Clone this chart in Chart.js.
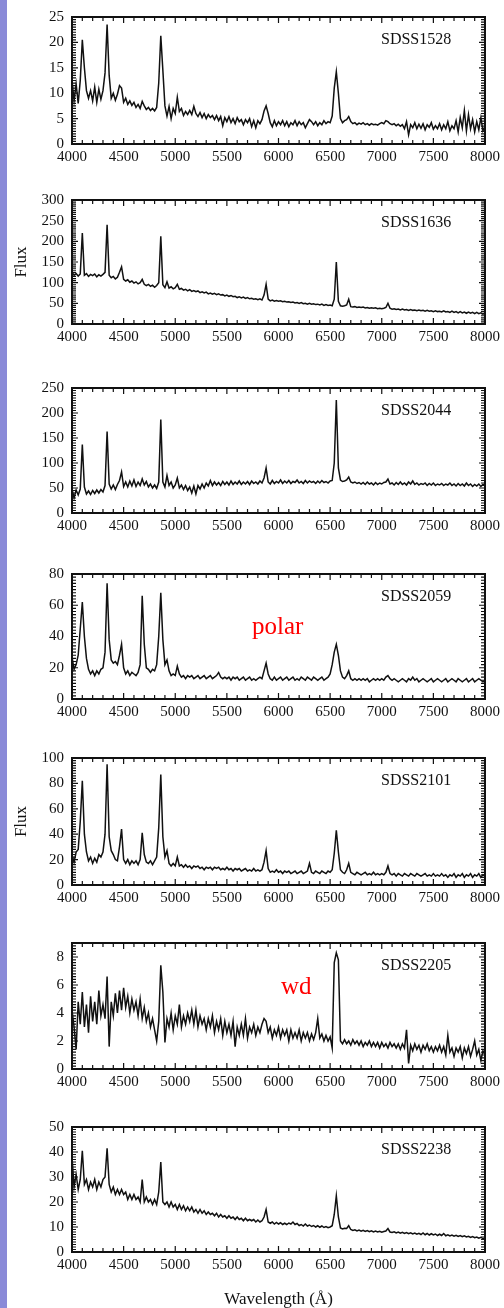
<!DOCTYPE html>
<html>
<head>
<meta charset="utf-8">
<script src="https://cdn.jsdelivr.net/npm/chart.js@4.4.1/dist/chart.umd.min.js"></script>
<style>
  html, body { margin: 0; padding: 0; background: #fff; overflow: hidden; }
  #page { position: relative; width: 504px; height: 1308px; }
  #strip { position: absolute; left: 0; top: 0; width: 7px; height: 1308px; background: #8a8ad8; }
  canvas { position: absolute; left: 0; }
</style>
</head>
<body>
<div id="page"><div id="strip"></div></div>
<script>
// wavelength grid (Angstrom), shared by all seven spectra
const wavelength = [
  4000,4020,4040,4060,4080,4100,4120,4140,4160,4180,
  4200,4220,4240,4260,4280,4300,4320,4340,4360,4380,
  4400,4420,4440,4460,4480,4500,4520,4540,4560,4580,
  4600,4620,4640,4660,4680,4700,4720,4740,4760,4780,
  4800,4820,4840,4860,4880,4900,4920,4940,4960,4980,
  5000,5020,5040,5060,5080,5100,5120,5140,5160,5180,
  5200,5220,5240,5260,5280,5300,5320,5340,5360,5380,
  5400,5420,5440,5460,5480,5500,5520,5540,5560,5580,
  5600,5620,5640,5660,5680,5700,5720,5740,5760,5780,
  5800,5820,5840,5860,5880,5900,5920,5940,5960,5980,
  6000,6020,6040,6060,6080,6100,6120,6140,6160,6180,
  6200,6220,6240,6260,6280,6300,6320,6340,6360,6380,
  6400,6420,6440,6460,6480,6500,6520,6540,6560,6580,
  6600,6620,6640,6660,6680,6700,6720,6740,6760,6780,
  6800,6820,6840,6860,6880,6900,6920,6940,6960,6980,
  7000,7020,7040,7060,7080,7100,7120,7140,7160,7180,
  7200,7220,7240,7260,7280,7300,7320,7340,7360,7380,
  7400,7420,7440,7460,7480,7500,7520,7540,7560,7580,
  7600,7620,7640,7660,7680,7700,7720,7740,7760,7780,
  7800,7820,7840,7860,7880,7900,7920,7940,7960,7980,
  8000
];

const flux1528 = [
  12.5,8.5,11.8,8.0,12.5,20.5,15.0,10.5,9.0,10.5,
  8.5,11.2,8.2,10.8,8.8,10.5,14.0,23.5,13.5,9.0,
  10.0,8.6,9.8,11.5,11.0,8.2,9.0,7.8,8.5,7.6,
  8.2,7.2,7.8,7.0,8.4,7.5,6.8,7.2,6.6,7.0,
  6.5,7.2,12.0,21.3,14.5,7.5,5.5,7.4,5.0,7.0,
  6.0,9.2,6.4,7.0,5.6,6.4,5.8,6.6,5.8,7.4,
  6.0,5.4,6.2,5.2,6.0,5.0,5.8,5.2,5.6,4.8,
  5.6,4.6,5.4,3.6,5.2,4.4,5.4,4.2,5.0,4.0,
  5.2,4.4,4.8,3.8,4.8,4.2,5.0,3.4,4.6,3.2,
  4.6,4.0,4.8,6.5,7.5,6.0,4.2,3.4,4.6,3.6,
  4.4,3.8,4.6,3.6,4.4,3.4,4.2,3.8,4.6,3.6,
  4.4,3.8,4.2,3.2,4.0,4.8,4.4,3.8,4.4,3.6,
  4.2,3.8,4.6,4.0,4.4,4.2,5.5,11.0,14.2,10.0,
  5.0,4.2,4.6,4.8,5.4,4.4,4.0,4.2,3.8,4.1,
  3.9,4.2,3.8,4.0,3.7,4.0,3.8,3.9,3.7,4.0,
  4.2,4.0,4.6,4.4,4.0,3.8,4.0,3.6,3.9,3.5,
  3.8,3.0,4.4,1.8,3.8,3.2,4.2,3.0,3.9,3.1,
  4.0,2.8,3.8,3.3,4.2,2.9,3.6,3.0,4.0,2.8,
  3.8,3.0,4.4,2.6,3.6,3.0,4.6,2.4,5.2,3.2,
  6.6,2.6,5.8,3.0,4.8,2.4,4.4,2.8,5.2,2.6,
  3.5
];

const flux1636 = [
  125,118,122,116,121,220,118,122,115,120,
  117,121,114,119,116,120,125,240,118,112,
  115,109,113,125,138,108,104,107,101,104,
  99,102,97,100,108,96,93,96,91,94,
  89,93,100,212,95,88,102,87,90,85,
  88,96,84,86,82,84,80,83,79,81,
  78,80,76,78,75,77,73,75,72,74,
  71,73,70,71,68,70,67,69,66,67,
  64,66,63,65,62,64,61,62,60,61,
  59,61,58,70,96,60,56,58,55,57,
  55,56,54,55,53,54,52,53,51,52,
  50,52,49,50,48,50,48,49,47,48,
  46,48,45,47,45,46,44,60,150,55,
  44,43,44,46,60,42,41,42,40,41,
  40,41,39,40,38,39,38,39,37,38,
  37,38,40,50,38,36,37,35,36,34,
  36,34,35,33,35,33,34,32,34,32,
  33,31,33,31,32,30,32,30,31,29,
  32,29,30,28,31,28,30,27,30,27,
  29,26,29,26,28,25,28,25,27,24,
  27
];

const flux2044 = [
  48,30,46,36,48,137,52,38,44,37,
  45,39,46,40,47,42,55,163,58,48,
  56,47,57,65,82,53,62,52,64,54,
  66,53,62,55,68,56,63,52,58,50,
  56,49,62,187,62,52,75,55,62,50,
  56,70,50,56,47,55,45,52,40,54,
  38,55,48,58,50,60,54,65,55,62,
  56,61,55,63,57,62,56,64,57,62,
  58,64,57,62,58,63,57,64,59,62,
  58,64,60,70,90,62,58,65,59,63,
  60,66,59,64,60,65,59,63,61,66,
  60,63,59,65,60,64,61,63,59,64,
  60,65,61,63,60,64,65,100,226,90,
  66,63,64,66,72,62,60,62,59,61,
  58,61,57,62,58,60,56,61,57,60,
  58,61,62,68,58,60,56,61,57,62,
  57,60,56,62,58,64,57,60,56,59,
  57,60,55,59,56,60,55,58,56,59,
  55,58,56,60,55,58,54,59,55,58,
  54,60,55,58,53,57,54,58,53,57,
  55
];

const flux2059 = [
  27,19,22,28,45,62,40,26,19,16,
  18,15,18,16,19,20,30,74,38,25,
  23,24,22,28,35,20,16,18,15,17,
  16,15,17,22,66,35,20,19,17,19,
  18,22,40,68,38,22,25,18,15,16,
  15,21,16,14,15,13,15,14,15,13,
  14,15,13,14,15,13,14,15,13,14,
  15,17,14,13,14,13,14,12,14,13,
  14,12,13,14,12,13,14,12,13,12,
  13,14,13,18,23,16,13,12,14,12,
  13,14,12,13,14,12,13,14,12,13,
  12,14,13,12,14,13,12,14,13,12,
  13,14,12,13,14,16,22,30,35,28,
  18,14,13,15,18,13,12,13,12,13,
  12,13,12,13,11,12,13,12,13,12,
  13,12,14,15,13,12,13,12,11,12,
  13,12,11,13,12,14,12,13,11,12,
  13,12,11,12,13,11,12,13,12,11,
  12,13,11,12,13,12,11,13,12,11,
  12,13,11,12,13,11,12,13,12,11,
  12
];

const flux2101 = [
  24,18,26,28,50,82,40,26,19,22,
  17,21,18,24,22,26,40,95,38,27,
  24,20,19,30,44,20,17,20,16,19,
  17,19,16,20,41,24,18,17,19,16,
  19,22,45,87,38,22,27,17,15,17,
  15,22,15,16,14,16,14,15,13,15,
  14,15,13,14,12,14,13,14,12,14,
  13,14,12,13,12,14,12,13,11,13,
  12,13,11,12,13,11,12,11,13,11,
  12,11,12,18,27,13,10,11,10,12,
  10,11,9,11,10,11,9,10,11,9,
  10,11,9,10,11,17,10,9,11,10,
  9,11,10,9,11,10,12,25,43,26,
  12,10,9,12,17,10,9,8,10,9,
  8,9,10,8,9,8,10,8,9,8,
  9,8,10,15,9,8,9,7,9,8,
  7,9,8,7,9,8,7,9,8,7,
  8,9,7,8,7,9,7,8,7,9,
  7,8,6,8,7,9,6,8,7,9,
  6,8,7,9,6,8,7,9,6,8,
  7
];

const flux2205 = [
  4.2,3.0,1.4,4.8,3.2,5.5,3.0,4.6,2.6,5.2,
  3.4,4.8,3.2,5.6,3.8,4.6,3.6,6.6,1.6,4.8,
  3.8,5.4,4.0,5.6,4.2,5.8,4.4,5.2,4.0,5.0,
  4.2,4.8,3.8,5.0,3.6,4.4,3.4,4.0,3.0,3.6,
  2.8,2.0,3.4,7.4,5.5,1.9,3.6,3.0,4.0,2.8,
  3.8,3.2,4.6,3.0,3.8,3.2,4.0,3.4,4.2,3.2,
  4.2,3.0,3.8,3.2,3.6,2.8,3.6,3.0,3.8,2.6,
  3.4,2.8,3.6,2.4,3.4,2.6,3.2,2.4,3.4,1.6,
  3.0,2.4,3.2,2.4,3.6,2.2,3.0,2.6,3.2,2.4,
  3.0,2.6,3.2,3.6,3.4,2.6,3.0,2.2,2.8,2.4,
  3.0,2.2,2.8,2.4,2.8,2.0,2.8,2.2,2.6,2.2,
  2.8,2.0,2.6,2.2,2.6,2.0,2.5,2.1,2.6,3.6,
  2.2,2.5,2.0,2.4,2.0,2.3,1.5,7.6,8.3,7.8,
  2.0,1.8,2.1,1.8,2.0,1.7,2.1,1.8,2.0,1.7,
  2.0,1.6,1.9,1.7,2.0,1.6,1.9,1.6,1.9,1.5,
  1.9,1.6,1.8,1.5,1.9,1.6,1.8,1.5,1.8,1.4,
  1.8,1.5,2.8,0.4,1.7,1.3,1.8,1.4,1.7,1.2,
  1.7,1.4,1.8,1.3,1.6,1.2,1.6,1.3,1.7,1.2,
  1.6,1.0,2.4,1.2,1.5,0.9,1.5,1.2,1.6,0.8,
  1.5,1.1,1.6,0.9,1.4,2.0,1.0,1.4,0.6,1.3,
  1.0
];

const flux2238 = [
  38,26,31,25,29,40.5,27,29,25,28,
  26,29,25,28,26,29,30,41.5,27,24,
  26,23,25,23,25,23,24,21,23,21,
  23,21,22,20,29,20,22,20,21,19,
  21,19,24,36,20,19,20,18,20,18,
  19,17,19,17,18.5,16.5,18,16.5,18,16,
  17,15.5,17,15.5,16.5,15,16,15,15.5,14.5,
  15.5,14,15,14,14.5,13.5,14.5,13.5,14,13,
  14,13,13.5,12.5,13.5,12.5,13,12.5,13,12,
  12.8,12,12.5,14,17,12,11.5,12,11.2,11.8,
  11.2,11.7,11,11.5,11,11.6,11.2,12,11,11.4,
  10.6,11,10.4,11.2,10.4,10.8,10.2,10.6,10,10.5,
  9.9,10.4,9.8,10.2,9.7,10,10.5,15,22.5,14,
  9.6,9.2,9.5,9.4,10.5,9,8.6,8.9,8.4,8.8,
  8.3,8.7,8.2,8.6,8.1,8.5,8,8.4,8,8.3,
  7.9,8.2,8.4,9.4,8,7.8,8.1,7.6,8,7.5,
  7.9,7.4,7.8,7.3,7.7,7.2,7.6,7.1,7.5,7,
  7.6,6.9,7.4,6.8,7.3,6.8,7.2,6.6,7.1,6.6,
  7.4,6.5,6.9,6.4,6.8,6.3,6.7,6.2,6.6,6.1,
  6.5,6,6.3,5.8,6.2,5.7,6,5.5,5.9,5.3,
  5.6
];

// tick labels
const xTicks = [4000, 4500, 5000, 5500, 6000, 6500, 7000, 7500, 8000];
const yTicks1528 = [0, 5, 10, 15, 20, 25];
const yTicks1636 = [0, 50, 100, 150, 200, 250, 300];
const yTicks2044 = [0, 50, 100, 150, 200, 250];
const yTicks2059 = [0, 20, 40, 60, 80];
const yTicks2101 = [0, 20, 40, 60, 80, 100];
const yTicks2205 = [0, 2, 4, 6, 8];
const yTicks2238 = [0, 10, 20, 30, 40, 50];

const serif = "'Liberation Serif', 'Times New Roman', serif";
const PAD_TOP = 12;

const panels = [
  { name: 'SDSS1528', flux: flux1528, yTicks: yTicks1528, yMax: 25,  yMinor: 0.5, top: 12,   bottom: 144 },
  { name: 'SDSS1636', flux: flux1636, yTicks: yTicks1636, yMax: 300, yMinor: 5,   top: 195,  bottom: 324, yTitle: 'Flux' },
  { name: 'SDSS2044', flux: flux2044, yTicks: yTicks2044, yMax: 250, yMinor: 5,   top: 383,  bottom: 513 },
  { name: 'SDSS2059', flux: flux2059, yTicks: yTicks2059, yMax: 80,  yMinor: 2,   top: 569,  bottom: 699, note: 'polar', noteDx: 180, noteDy: 60 },
  { name: 'SDSS2101', flux: flux2101, yTicks: yTicks2101, yMax: 100, yMinor: 2,   top: 753,  bottom: 885, yTitle: 'Flux' },
  { name: 'SDSS2205', flux: flux2205, yTicks: yTicks2205, yMax: 9,   yMinor: 0.2, top: 938,  bottom: 1069, note: 'wd', noteDx: 209, noteDy: 51 },
  { name: 'SDSS2238', flux: flux2238, yTicks: yTicks2238, yMax: 50,  yMinor: 1,   top: 1122, bottom: 1252, xTitle: 'Wavelength (\u00c5)' }
];

// box with inward major/minor ticks on all four sides, plus the panel texts
const framePlugin = {
  id: 'frame',
  afterDatasetsDraw(chart, args, opts) {
    const { ctx, chartArea: a, scales: { x, y } } = chart;
    ctx.save();
    ctx.strokeStyle = '#111';
    ctx.lineWidth = 1.2;
    ctx.beginPath();
    for (let k = 0; k <= 40; k++) {
      const px = x.getPixelForValue(4000 + k * 100);
      const len = k % 5 === 0 ? 6 : 4;
      ctx.moveTo(px, a.bottom); ctx.lineTo(px, a.bottom - len);
      ctx.moveTo(px, a.top); ctx.lineTo(px, a.top + len);
    }
    const n = Math.round(opts.yMax / opts.yMinor);
    const per = Math.round(opts.yStep / opts.yMinor);
    for (let k = 0; k <= n; k++) {
      const py = y.getPixelForValue(k * opts.yMinor);
      const len = k % per === 0 ? 6 : 4;
      ctx.moveTo(a.left, py); ctx.lineTo(a.left + len, py);
      ctx.moveTo(a.right, py); ctx.lineTo(a.right - len, py);
    }
    ctx.stroke();

    ctx.lineWidth = 2;
    ctx.strokeRect(a.left, a.top, a.right - a.left, a.bottom - a.top);

    ctx.fillStyle = '#111';
    ctx.font = '16px ' + serif;
    ctx.textAlign = 'left';
    ctx.textBaseline = 'alphabetic';
    ctx.fillText(opts.name, a.left + 309, a.top + 27);

    if (opts.note) {
      ctx.fillStyle = '#ff0000';
      ctx.font = '25px ' + serif;
      ctx.fillText(opts.note, a.left + opts.noteDx, a.top + opts.noteDy);
    }
    ctx.restore();
  }
};

const page = document.getElementById('page');

panels.forEach(p => {
  const xAxisH = p.xTitle ? 1308 - p.bottom : 28;
  const h = (p.bottom - p.top) + PAD_TOP + xAxisH;
  const canvas = document.createElement('canvas');
  canvas.width = 504;
  canvas.height = h;
  canvas.style.top = (p.top - PAD_TOP) + 'px';
  canvas.style.width = '504px';
  canvas.style.height = h + 'px';
  page.appendChild(canvas);

  new Chart(canvas.getContext('2d'), {
    type: 'line',
    data: {
      datasets: [{
        data: wavelength.map((w, i) => ({ x: w, y: p.flux[i] })),
        borderColor: '#111',
        borderWidth: 1.5,
        pointRadius: 0,
        tension: 0,
        fill: false
      }]
    },
    options: {
      responsive: false,
      animation: false,
      devicePixelRatio: 1,
      layout: { padding: { left: 0, right: 18, top: PAD_TOP, bottom: 0 } },
      plugins: {
        legend: { display: false },
        tooltip: { enabled: false },
        frame: { name: p.name, yMax: p.yMax, yMinor: p.yMinor, yStep: p.yTicks[1], note: p.note, noteDx: p.noteDx, noteDy: p.noteDy }
      },
      scales: {
        x: {
          type: 'linear',
          min: 4000,
          max: 8000,
          afterBuildTicks: scale => { scale.ticks = xTicks.map(v => ({ value: v })); },
          afterFit: scale => { scale.height = xAxisH; },
          grid: { display: false, drawTicks: false },
          border: { display: false },
          ticks: { color: '#111', padding: 4, maxRotation: 0, autoSkip: false, font: { family: serif, size: 15 }, callback: v => String(v) },
          title: {
            display: !!p.xTitle,
            text: p.xTitle || '',
            color: '#111',
            font: { family: serif, size: 17, lineHeight: 1 },
            padding: { top: 0, bottom: 0 }
          }
        },
        y: {
          type: 'linear',
          min: 0,
          max: p.yMax,
          afterBuildTicks: scale => { scale.ticks = p.yTicks.map(v => ({ value: v })); },
          afterFit: scale => { scale.width = 72; },
          grid: { display: false, drawTicks: false },
          border: { display: false },
          ticks: { color: '#111', padding: 8, autoSkip: false, font: { family: serif, size: 15 }, callback: v => String(v) },
          title: {
            display: !!p.yTitle,
            text: p.yTitle || '',
            color: '#111',
            font: { family: serif, size: 17, lineHeight: 1.2 },
            padding: { top: 11, bottom: 0 }
          }
        }
      }
    },
    plugins: [framePlugin]
  });
});
</script>
</body>
</html>
